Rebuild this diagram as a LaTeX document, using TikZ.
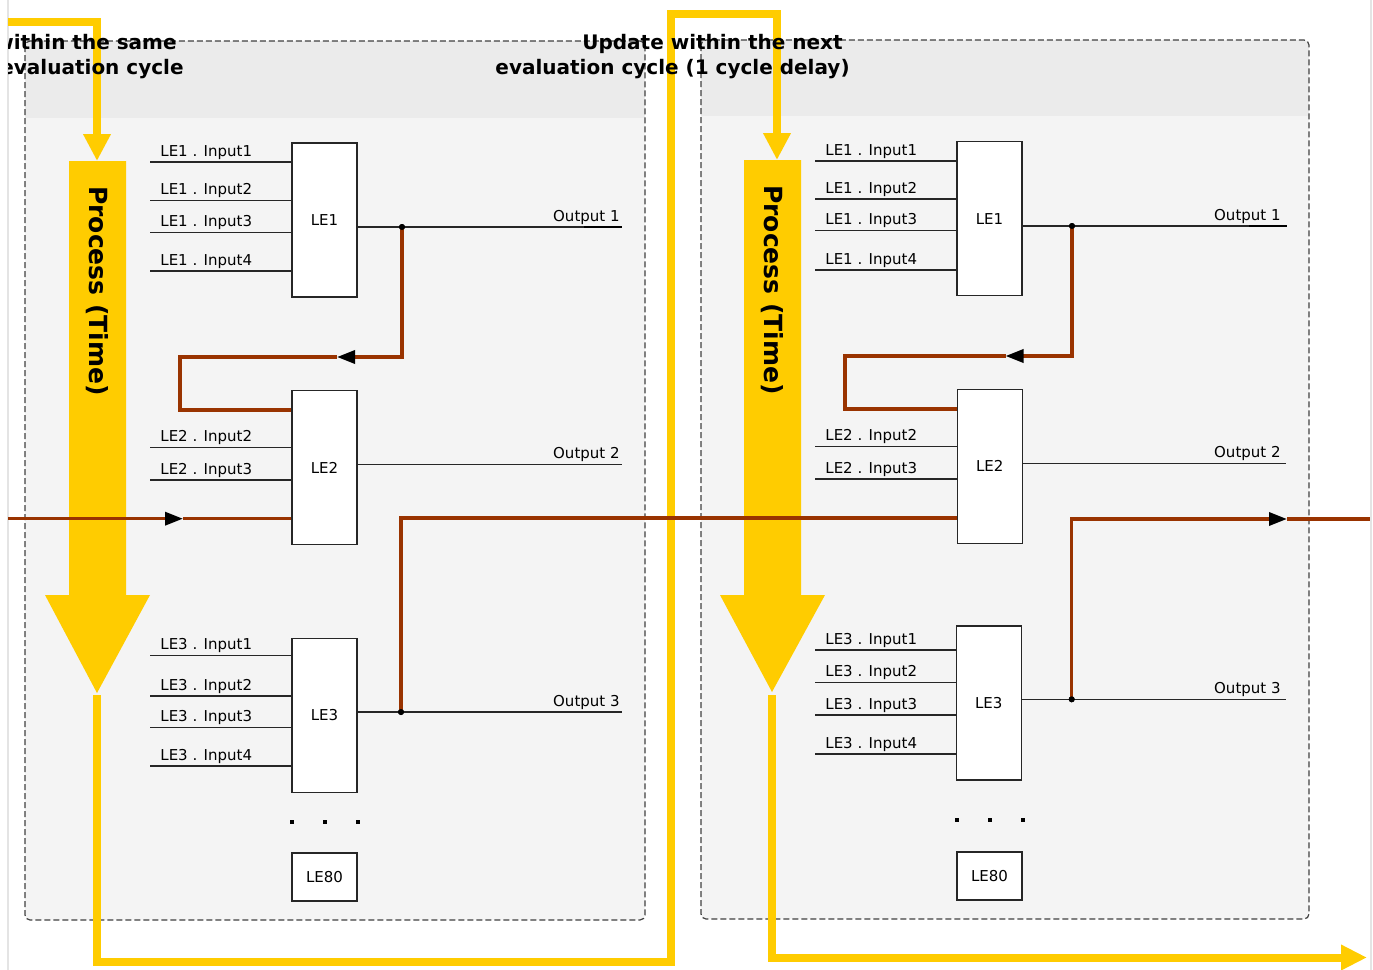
\documentclass[tikz,border=0pt]{standalone}
\usepackage{fontspec}
\setmainfont{DejaVu Sans}
\usetikzlibrary{arrows.meta}
\definecolor{ylw}{HTML}{FFCC00}
\definecolor{brn}{HTML}{993300}
\definecolor{hdr}{HTML}{EBEBEB}
\definecolor{bdy}{HTML}{F4F4F4}
\definecolor{edgegray}{HTML}{E4E4E4}
\begin{document}
\begin{tikzpicture}[x=0.5pt,y=-0.5pt,
  lebox/.style={draw=black!85, fill=white, line width=0.7pt, minimum width=32.5pt, minimum height=77pt, inner sep=0pt, font=\fontsize{7.5}{9}\selectfont},
  smallbox/.style={lebox, minimum height=24pt},
  wire/.style={draw=black!85, line width=0.7pt},
  wireend/.style={draw=black, line width=1.3pt},
  lbl/.style={font=\fontsize{7.5}{9}\selectfont, inner sep=0pt},
  brline/.style={draw=brn, line width=1.7pt},
  ylline/.style={draw=ylw, line width=4pt},
  panelbox/.style={draw=black!75, dash pattern=on 3pt off 1.5pt, line width=0.6pt, rounded corners=2.5pt},
  titletext/.style={font=\fontsize{10}{12.5}\selectfont\bfseries, inner sep=0pt, align=right},
  proctext/.style={font=\fontsize{12.5}{15}\selectfont\bfseries, inner sep=0pt, rotate=-90},
  jdot/.style={circle, fill=black, inner sep=0pt, minimum size=3pt},
  sqdot/.style={rectangle, fill=black, inner sep=0pt, minimum size=2pt},
  brtip/.style={-{Triangle[length=9pt,width=6.5pt,color=black,fill=black]}},
  yltip/.style={-{Triangle[length=13.5pt,width=13pt]}}
]
\useasboundingbox (0,0) rectangle (1373,970);
\draw[edgegray, line width=1pt] (7.5,0) -- (7.5,970);
\draw[edgegray, line width=1pt] (1370.5,0) -- (1370.5,970);
\begin{scope}
\clip (8,0) rectangle (1370,970);

% ---------- panels ----------
\fill[bdy, rounded corners=2.5pt] (25,41) rectangle (645,920);
\begin{scope}
  \clip[rounded corners=2.5pt] (25,41) rectangle (645,920);
  \fill[hdr] (25,41) rectangle (645,118);
\end{scope}
\draw[panelbox] (25,41) rectangle (645,920);

\fill[bdy, rounded corners=2.5pt] (701,40) rectangle (1309,919);
\begin{scope}
  \clip[rounded corners=2.5pt] (701,40) rectangle (1309,919);
  \fill[hdr] (701,40) rectangle (1309,116);
\end{scope}
\draw[panelbox] (701,40) rectangle (1309,919);

% ---------- yellow process arrows ----------
\fill[ylw] (69,161) -- (126,161) -- (126,595) -- (150,595) -- (97,693) -- (45,595) -- (69,595) -- cycle;
\fill[ylw] (744,160) -- (801,160) -- (801,595) -- (825,595) -- (772,692) -- (720,595) -- (744,595) -- cycle;

\draw[ylline, yltip] (8,22) -- (97,22) -- (97,161);
\draw[ylline, yltip] (97,695) -- (97,962) -- (671,962) -- (671,13.5) -- (777,13.5) -- (777,160);
\draw[ylline, -{Triangle[length=13pt,width=12pt]}] (772,695) -- (772,957.5) -- (1367,957.5);

\node[proctext] (pL) at (97,291) {Process (Time)};
\node[proctext] (pR) at (772,290) {Process (Time)};

% ---------- logic elements ----------
\node[lebox] (L1) at (324.5,220) {LE1};
\node[lebox] (L2) at (324.5,467.5) {LE2};
\node[lebox] (L3) at (324.5,715.3) {LE3};
\node[smallbox] (L80) at (324.5,877) {LE80};

\node[lebox] (R1) at (989.5,218.7) {LE1};
\node[lebox] (R2) at (989.8,466.3) {LE2};
\node[lebox] (R3) at (988.7,702.8) {LE3};
\node[smallbox] (R80) at (989.5,876) {LE80};

% ---------- inputs ----------
\foreach \y/\t [count=\i] in {162/{LE1 . Input1},200.5/{LE1 . Input2},232.5/{LE1 . Input3},271/{LE1 . Input4}}{
  \coordinate (wLa\i) at (150,\y);
  \draw[wire] (wLa\i) -- (wLa\i -| L1.west);
  \node[lbl, anchor=base west] (tLa\i) at (160,\y-6) {\t};
}
\foreach \y/\t [count=\i] in {447.5/{LE2 . Input2},480/{LE2 . Input3}}{
  \coordinate (wLb\i) at (150,\y);
  \draw[wire] (wLb\i) -- (wLb\i -| L2.west);
  \node[lbl, anchor=base west] (tLb\i) at (160,\y-6) {\t};
}
\foreach \y/\t [count=\i] in {655.7/{LE3 . Input1},696/{LE3 . Input2},727.7/{LE3 . Input3},766/{LE3 . Input4}}{
  \coordinate (wLc\i) at (150,\y);
  \draw[wire] (wLc\i) -- (wLc\i -| L3.west);
  \node[lbl, anchor=base west] (tLc\i) at (160,\y-6) {\t};
}
\foreach \y/\t [count=\i] in {161/{LE1 . Input1},199/{LE1 . Input2},230.7/{LE1 . Input3},270/{LE1 . Input4}}{
  \coordinate (wRa\i) at (815,\y);
  \draw[wire] (wRa\i) -- (wRa\i -| R1.west);
  \node[lbl, anchor=base west] (tRa\i) at (825,\y-6) {\t};
}
\foreach \y/\t [count=\i] in {446.7/{LE2 . Input2},479/{LE2 . Input3}}{
  \coordinate (wRb\i) at (815,\y);
  \draw[wire] (wRb\i) -- (wRb\i -| R2.west);
  \node[lbl, anchor=base west] (tRb\i) at (825,\y-6) {\t};
}
\foreach \y/\t [count=\i] in {650/{LE3 . Input1},682.7/{LE3 . Input2},715/{LE3 . Input3},754/{LE3 . Input4}}{
  \coordinate (wRc\i) at (815,\y);
  \draw[wire] (wRc\i) -- (wRc\i -| R3.west);
  \node[lbl, anchor=base west] (tRc\i) at (825,\y-6) {\t};
}

% ---------- outputs ----------
\coordinate (oL1) at (622,227);
\coordinate (oL2) at (622,464.5);
\coordinate (oL3) at (622,712);
\draw[wire] (oL1 -| L1.east) -- (oL1);
\draw[wireend] (584,227) -- (oL1);
\draw[wire] (oL2 -| L2.east) -- (oL2);
\draw[wire] (oL3 -| L3.east) -- (oL3);
\node[lbl, anchor=base east] (tOL1) at (620,221) {Output 1};
\node[lbl, anchor=base east] (tOL2) at (620,458.5) {Output 2};
\node[lbl, anchor=base east] (tOL3) at (620,706) {Output 3};

\coordinate (oR1) at (1287,226);
\coordinate (oR2) at (1286,463.3);
\coordinate (oR3) at (1286,699.3);
\draw[wire] (oR1 -| R1.east) -- (oR1);
\draw[wireend] (1249,226) -- (oR1);
\draw[wire] (oR2 -| R2.east) -- (oR2);
\draw[wire] (oR3 -| R3.east) -- (oR3);
\node[lbl, anchor=base east] (tOR1) at (1281,220) {Output 1};
\node[lbl, anchor=base east] (tOR2) at (1281,457.3) {Output 2};
\node[lbl, anchor=base east] (tOR3) at (1281,693.3) {Output 3};

% ---------- feedback connectors ----------
\node[jdot] (jL1) at (402,227) {};
\node[jdot] (jL3) at (401,712) {};
\node[jdot] (jR1) at (1072,226) {};
\node[jdot] (jR3) at (1071.7,699.3) {};

\coordinate (aL1) at (337,357);
\coordinate (fL1) at (180,410);
\draw[brline, brtip] (jL1.center) |- (aL1);
\draw[brline] (aL1) -| (fL1) -- (fL1 -| L2.west);

\coordinate (inL) at (8,518.7);
\coordinate (aL2) at (183,518.7);
\draw[brline, brtip] (inL) -- (aL2);
\draw[brline] (aL2) -- (aL2 -| L2.west);

\coordinate (cross) at (401,518);
\draw[brline] (jL3.center) -- (cross) -- (cross -| R2.west);

\coordinate (aR1) at (1005.5,356);
\coordinate (fR1) at (845,409);
\draw[brline, brtip] (jR1.center) |- (aR1);
\draw[brline] (aR1) -| (fR1) -- (fR1 -| R2.west);

\coordinate (aR3) at (1287,519);
\coordinate (outR) at (1370,519);
\draw[brline, brtip] (jR3.center) |- (aR3);
\draw[brline] (aR3) -- (outR);

\node[jdot] at (jL1) {};
\node[jdot] at (jL3) {};
\node[jdot] at (jR1) {};
\node[jdot] at (jR3) {};

% ---------- ellipsis dots ----------
\foreach \x [count=\i] in {292,325,358}{ \node[sqdot] (eL\i) at (\x,822) {}; }
\foreach \x [count=\i] in {956.7,990,1023}{ \node[sqdot] (eR\i) at (\x,820) {}; }

% ---------- titles ----------
\node[titletext, anchor=north east] (tL) at (184,34) {Update within the same\hspace*{3.5pt}\\evaluation cycle};
\node[titletext, anchor=north east] (tR) at (850,34) {Update within the next\hspace*{3.5pt}\\evaluation cycle (1 cycle delay)};
\end{scope}
\end{tikzpicture}
\end{document}
